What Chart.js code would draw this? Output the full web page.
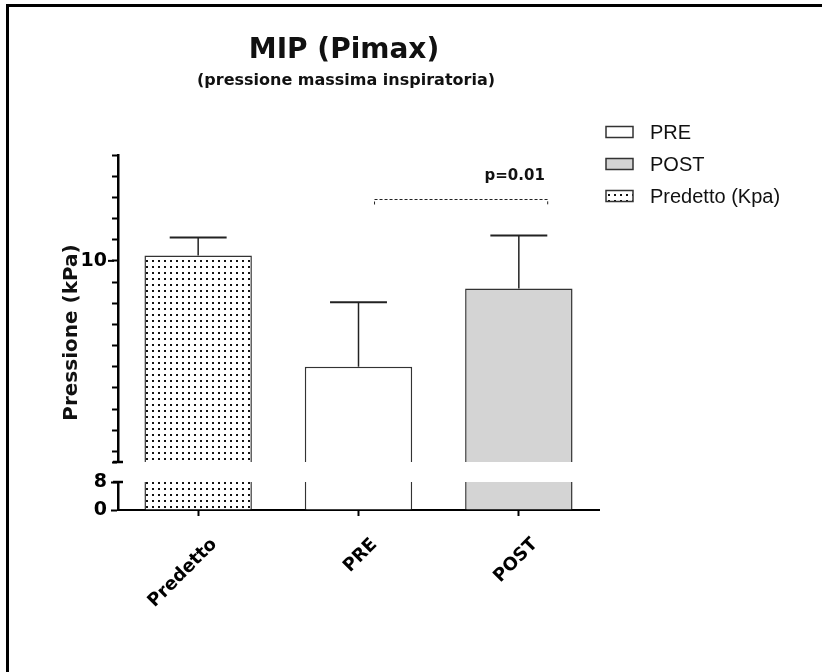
<!DOCTYPE html>
<html>
<head>
<meta charset="utf-8">
<script src="https://cdn.jsdelivr.net/npm/chart.js@4.4.1/dist/chart.umd.min.js"></script>
<style>
  html, body { margin: 0; padding: 0; background: #fff; overflow: hidden; }
  #wrap { position: relative; width: 822px; height: 672px; }
  #frame { position: absolute; left: 6px; top: 4px; width: 860px; height: 720px;
           border-top: 3px solid #000; border-left: 3px solid #000; pointer-events: none; }
</style>
</head>
<body>
<div id="wrap">
  <canvas id="chart" width="822" height="672"></canvas>
  <div id="frame"></div>
</div>
<script>
// valori (media + DS)
const categories = ["Predetto", "PRE", "POST"];
const means = [10.05, 9.0, 9.74];
const errors = [0.17, 0.61, 0.5];
const seriesLabels = ["Predetto (Kpa)", "PRE", "POST"];
const legendOrder = [1, 2, 0];

// asse y spezzato
const upperRange = [8.1, 11];
const upperStep = 0.2;
const upperLabels = [10];
const lowerTicks = [0, 8];

// confronto PRE / POST
const sigFrom = 1.1;
const sigTo = 2.18;
const sigLevel = 10.58;
const sigText = "p=0.01";

const BOLD = '"DejaVu Sans", Verdana, sans-serif';
const ctx = document.getElementById("chart").getContext("2d");

function dotPattern() {
  const c = document.createElement("canvas");
  c.width = 6;
  c.height = 6;
  const g = c.getContext("2d");
  g.fillStyle = "#fff";
  g.fillRect(0, 0, 6, 6);
  g.fillStyle = "#111";
  g.fillRect(2, 2, 2, 2);
  return ctx.createPattern(c, "repeat");
}

const fills = [dotPattern(), "#ffffff", "#d4d4d4"];

const tickFont = { family: BOLD, size: 19, weight: "bold" };

// decorazioni: titoli, legenda, barre d'errore, interruzione asse
const decor = {
  id: "decor",
  afterDatasetsDraw(chart) {
    const c = chart.ctx;
    const ys = chart.scales.y;
    const meta = chart.getDatasetMeta(0);
    c.save();
    c.strokeStyle = "#222";
    meta.data.forEach((bar, i) => {
      const top = ys.getPixelForValue(means[i] + errors[i]);
      const half = bar.width * 0.265;
      c.lineWidth = 1.5;
      c.beginPath();
      c.moveTo(bar.x, bar.y);
      c.lineTo(bar.x, top);
      c.stroke();
      c.lineWidth = 2;
      c.beginPath();
      c.moveTo(bar.x - half, top);
      c.lineTo(bar.x + half, top);
      c.stroke();
    });
    c.restore();
  },
  afterDraw(chart) {
    const c = chart.ctx;
    const area = chart.chartArea;
    const xs = chart.scales.x;
    const ys = chart.scales.y;
    const yl = chart.scales.yLow;
    c.save();

    // titolo
    c.fillStyle = "#111";
    c.textAlign = "center";
    c.textBaseline = "middle";
    c.font = "bold 28px " + BOLD;
    c.fillText("MIP (Pimax)", 344, 51);
    c.font = "bold 16px " + BOLD;
    c.fillText("(pressione massima inspiratoria)", 346, 81);

    // titolo asse y
    c.save();
    c.translate(area.left - 46, (area.top + area.bottom) / 2);
    c.rotate(-Math.PI / 2);
    c.font = "bold 20px " + BOLD;
    c.fillText("Pressione (kPa)", 0, 0);
    c.restore();

    // tacca principale e terminali dell'asse spezzato
    c.strokeStyle = "#000";
    c.lineWidth = 2;
    const y10 = ys.getPixelForValue(upperLabels[0]);
    c.beginPath();
    c.moveTo(area.left - 10, y10);
    c.lineTo(area.left - 4, y10);
    c.stroke();
    c.lineWidth = 2.5;
    [ys.bottom, yl.top].forEach((yy) => {
      c.beginPath();
      c.moveTo(area.left - 5, yy);
      c.lineTo(area.left + 5, yy);
      c.stroke();
    });

    // significativita'
    const x1 = xs.getPixelForValue(sigFrom);
    const x2 = xs.getPixelForValue(sigTo);
    const yb = Math.round(ys.getPixelForValue(sigLevel)) + 0.5;
    c.strokeStyle = "#222";
    c.lineWidth = 1;
    c.setLineDash([3, 2]);
    c.beginPath();
    c.moveTo(x1, yb + 5);
    c.lineTo(x1, yb);
    c.lineTo(x2, yb);
    c.lineTo(x2, yb + 5);
    c.stroke();
    c.setLineDash([]);
    c.font = "bold 15px " + BOLD;
    c.fillText(sigText, x2 - 33, yb - 23);

    // legenda
    c.font = '20px "Liberation Sans", Arial, sans-serif';
    c.textAlign = "left";
    legendOrder.forEach((idx, row) => {
      const y = area.top - 23 + row * 32;
      const bx = area.right + 7;
      c.fillStyle = fills[idx];
      c.fillRect(bx, y - 5.5, 27, 11);
      c.strokeStyle = "#333";
      c.lineWidth = 1.5;
      c.strokeRect(bx, y - 5.5, 27, 11);
      c.fillStyle = "#111";
      c.fillText(seriesLabels[idx], bx + 44, y + 1);
    });
    c.restore();
  },
};

const axisGrid = { drawOnChartArea: false, tickLength: 6, tickWidth: 2, color: "#000" };
const fixWidth = (s) => { s.width = 40; };

new Chart(ctx, {
  type: "bar",
  data: {
    labels: categories,
    datasets: [
      {
        data: means,
        yAxisID: "y",
        backgroundColor: fills,
        borderColor: "#333",
        borderWidth: { top: 1.5, left: 1.5, right: 1.5, bottom: 0 },
        borderSkipped: false,
        grouped: false,
      },
      {
        data: means.map((v) => Math.min(v, lowerTicks[1])),
        yAxisID: "yLow",
        backgroundColor: fills,
        borderColor: "#333",
        borderWidth: { top: 0, left: 1.5, right: 1.5, bottom: 0 },
        borderSkipped: false,
        grouped: false,
      },
    ],
  },
  options: {
    responsive: false,
    animation: false,
    barPercentage: 0.67,
    categoryPercentage: 1,
    layout: { padding: { left: 78, top: 155, right: 223, bottom: 62 } },
    plugins: {
      legend: { display: false },
      tooltip: { enabled: false },
    },
    scales: {
      x: {
        type: "category",
        offset: true,
        grid: { ...axisGrid, offset: false },
        border: { color: "#000", width: 2 },
        ticks: {
          color: "#000",
          font: { family: BOLD, size: 18, weight: "bold" },
          minRotation: 45,
          maxRotation: 45,
          padding: 18,
          labelOffset: 16,
        },
        afterFit: (s) => { s.height = 100; },
      },
      y: {
        type: "linear",
        position: "left",
        stack: "v",
        stackWeight: 307,
        weight: 3,
        min: upperRange[0],
        max: upperRange[1],
        grid: axisGrid,
        border: { color: "#000", width: 2.5 },
        ticks: {
          color: "#000",
          font: tickFont,
          padding: 5,
          autoSkip: false,
          callback: (v) => (upperLabels.includes(Math.round(v * 10) / 10) ? String(Math.round(v)) : ""),
        },
        afterBuildTicks: (s) => {
          const t = [{ value: upperRange[0] }];
          for (let k = Math.ceil(upperRange[0] / upperStep); k * upperStep <= upperRange[1] + 1e-9; k++) {
            t.push({ value: +(k * upperStep).toFixed(1) });
          }
          s.ticks = t;
        },
        afterFit: fixWidth,
      },
      yGap: {
        type: "linear",
        position: "left",
        stack: "v",
        stackWeight: 20,
        weight: 2,
        min: 0,
        max: 1,
        grid: { display: false },
        border: { display: false },
        ticks: { display: false },
        afterFit: fixWidth,
      },
      yLow: {
        type: "linear",
        position: "left",
        stack: "v",
        stackWeight: 28,
        weight: 1,
        min: lowerTicks[0],
        max: lowerTicks[1],
        grid: { ...axisGrid, tickLength: 7 },
        border: { color: "#000", width: 2.5 },
        ticks: { color: "#000", font: tickFont, padding: 4, autoSkip: false },
        afterBuildTicks: (s) => { s.ticks = lowerTicks.map((v) => ({ value: v })); },
        afterFit: fixWidth,
      },
    },
  },
  plugins: [decor],
});
</script>
</body>
</html>
